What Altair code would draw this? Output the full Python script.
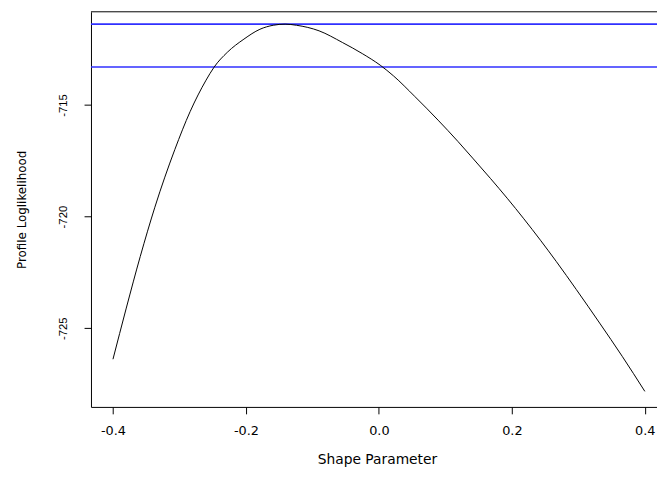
import altair as alt
import pandas as pd

# Profile log-likelihood curve
shape_param = [-0.400, -0.380, -0.359, -0.337, -0.307, -0.284, -0.260, -0.248,
               -0.228, -0.203, -0.179, -0.159, -0.141, -0.124, -0.090, -0.055,
               -0.025, 0.002, 0.022, 0.054, 0.089, 0.119, 0.141, 0.168,
               0.193, 0.218, 0.243, 0.267, 0.297, 0.332, 0.366, 0.400]
profile_ll = [-726.39, -724.10, -721.79, -719.58, -717.00, -715.30, -713.89, -713.31,
              -712.64, -712.05, -711.61, -711.43, -711.38, -711.43, -711.68, -712.20,
              -712.70, -713.22, -713.70, -714.62, -715.68, -716.64, -717.38, -718.30,
              -719.18, -720.10, -721.06, -722.02, -723.27, -724.77, -726.26, -727.83]

# horizontal reference lines: maximum and maximum - 1.92
ci_levels = [-711.38, -713.30]

x_ticks = [-0.4, -0.2, 0.0, 0.2, 0.4]
y_ticks = [-725, -720, -715]

curve_df = pd.DataFrame({"xi": shape_param, "ll": profile_ll})
lines_df = pd.DataFrame({"ll": ci_levels})
border_df = pd.DataFrame({"a": [0]})

xscale = alt.Scale(domain=[-0.4331, 0.4183], nice=False, zero=False)
yscale = alt.Scale(domain=[-728.527, -710.827], nice=False, zero=False)

x_axis = alt.Axis(
    values=x_ticks, tickSize=7, labelPadding=11, labelFlush=False, labelOverlap=False,
    labelFont="DejaVu Sans", labelFontSize=13,
    labelExpr="(datum.value < 0 ? '-' : '') + format(abs(datum.value), '.1f')",
    title="Shape Parameter", titleFont="DejaVu Sans", titleFontSize=14,
    titleFontWeight="normal", titleX=289.5, titleY=57.4,
    titleAlign="center", titleBaseline="alphabetic", grid=False,
)
y_axis = alt.Axis(
    values=y_ticks, tickSize=7, labelPadding=16, labelOverlap=False,
    labelAngle=-90, labelAlign="center", labelBaseline="bottom",
    labelFont="Liberation Sans", labelFontSize=11.5,
    labelExpr="(datum.value < 0 ? '-' : '') + format(abs(datum.value), 'd')",
    title="Profile Loglikelihood", titleFont="DejaVu Sans", titleFontSize=12,
    titleFontWeight="normal", titleAngle=270, titleX=-70, titleY=200,
    titleAlign="center", titleBaseline="middle", grid=False,
)

ci = alt.Chart(lines_df).mark_rule(color="#3030ff", strokeWidth=1.6).encode(
    y=alt.Y("ll:Q", scale=yscale, axis=y_axis)
)

curve = alt.Chart(curve_df).mark_line(
    color="black", strokeWidth=1, interpolate="monotone", clip=True
).encode(
    x=alt.X("xi:Q", scale=xscale, axis=x_axis),
    y=alt.Y("ll:Q", scale=yscale, axis=y_axis),
)

top_border = alt.Chart(border_df).mark_rule(color="black", strokeWidth=1).encode(
    y=alt.value(0)
)

chart = alt.layer(ci, curve, top_border).properties(
    width=573,
    height=400,
    autosize=alt.AutoSizeParams(type="none"),
    padding={"left": 84, "top": 1, "right": 0, "bottom": 60},
    background="white",
).configure_view(stroke=None).configure_axis(
    domainColor="black", tickColor="black", labelColor="black", titleColor="black",
    domainWidth=1, tickWidth=1,
)

chart.save("out.html", embed_options={"renderer": "svg", "actions": False})
